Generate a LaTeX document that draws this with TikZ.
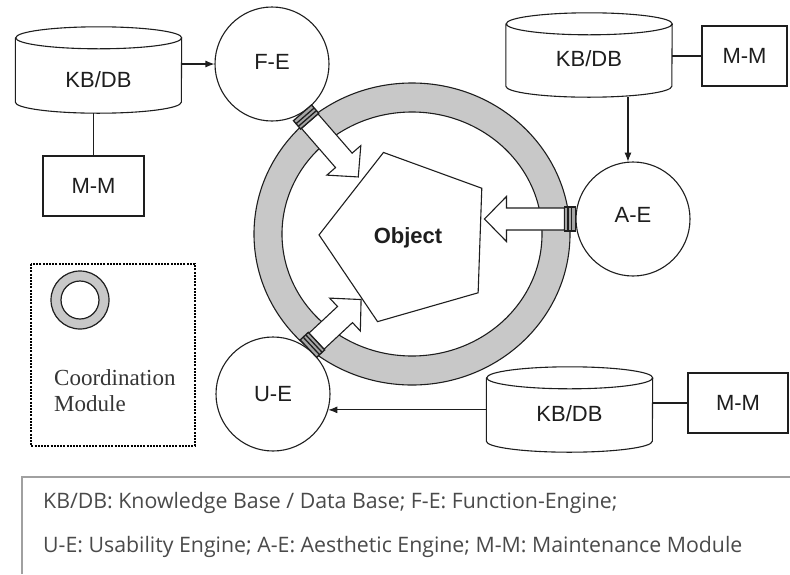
\documentclass[tikz,border=0pt]{standalone}
\usepackage{fontspec}
\setmainfont{Liberation Sans}
\newfontfamily\seriffont{Liberation Serif}
\newfontfamily\legendfont{Open Sans}
\usetikzlibrary{shapes.geometric,arrows.meta,calc}

\definecolor{ink}{HTML}{1E1E1E}
\definecolor{ringgray}{HTML}{C8C8C8}
\definecolor{legendtext}{HTML}{4A4A4A}
\definecolor{rulegray}{HTML}{A0A0A0}

\tikzset{
  shapeline/.style={draw=ink, line width=1.1pt},
  lbl/.style={font=\fontsize{22}{26}\selectfont, text=ink},
  engine/.style={shapeline, circle, minimum size=114pt, inner sep=0pt, lbl, fill=white},
  mmbox/.style={shapeline, rectangle, minimum width=#1, minimum height=60pt, inner sep=0pt, lbl},
  dbnode/.style={rectangle, minimum width=166pt, minimum height=#1, inner sep=0pt, lbl},
  link/.style={draw=ink, line width=1.1pt},
  flow/.style={link, -{Latex[length=9pt,width=7pt]}},
  arrowbody/.style={fill=white, draw=ink, line width=1.1pt, line join=miter},
  joint/.style={fill=gray!70, draw=ink, line width=1.3pt},
  jointline/.style={draw=ink, line width=1.3pt},
  legend/.style={font=\legendfont\fontsize{21.3}{25}\selectfont, text=legendtext, inner sep=0pt, anchor=west},
}

% cylinder outline around a database node (top cap and curved base)
\newcommand\drawdb[1]{%
  \draw[shapeline]
    ([yshift=-11pt]#1.north west) -- ([yshift=11pt]#1.south west)
    arc[start angle=180, end angle=360, x radius=83pt, y radius=11pt]
    -- ([yshift=-11pt]#1.north east)
    arc[start angle=0, end angle=360, x radius=83pt, y radius=11pt];}
% text lowered inside the cylinder body
\newcommand\dblabel[2]{\raisebox{\dimexpr -#1pt - 7.9pt\relax}[0pt][0pt]{#2}}
% hollow block arrow with its socket: anchor, direction, length
\newcommand\blockarrow[3]{%
  \begin{scope}[shift={(#1)}, rotate=#2]
    \path[arrowbody] (11,-11) -- ({#3-22},-11) -- ({#3-22},-22.5) -- (#3,0)
      -- ({#3-22},22.5) -- ({#3-22},11) -- (11,11) -- cycle;
    \path[joint] (0,-12) rectangle (11,12);
    \draw[jointline] (4,-12) -- (4,12) (7.5,-12) -- (7.5,12);
  \end{scope}}

\begin{document}
\begin{tikzpicture}[x=1pt, y=-1pt]
\useasboundingbox[fill=white] (0,0) rectangle (790,574);

% coordination ring around the object
\path[fill=ringgray, even odd rule]
  (412,234) ellipse[x radius=158pt, y radius=151pt]
  (412,234) ellipse[x radius=130pt, y radius=122pt];
\draw[draw=ink, line width=1.1pt] (412,234) ellipse[x radius=158pt, y radius=151pt];
\draw[draw=ink, line width=1.1pt] (412,234) ellipse[x radius=130pt, y radius=122pt];

% the object
\node[regular polygon, regular polygon sides=5, shape border rotate=16,
      minimum size=178pt, inner sep=0pt, shapeline, fill=white,
      lbl, font=\fontsize{22}{26}\selectfont\bfseries] (obj) at (408,238) {Object};

% engines
\node[engine] (fe) at (272,64)  {\raisebox{5pt}{F-E}};
\node[engine] (ae) at (633,219) {\raisebox{8pt}{A-E}};
\node[engine] (ue) at (273,394) {U-E};

% engine outputs into the object
\blockarrow{fe.-58}{-49}{85}
\blockarrow{ae.180}{180}{91}
\blockarrow{ue.52}{43}{72}

% knowledge bases and maintenance modules
\node[dbnode=86pt] (kbA) at (98.5,70)  {\dblabel{10}{KB/DB}};
\drawdb{kbA}
\node[dbnode=84pt] (kbB) at (589,55)   {\dblabel{4}{KB/DB}};
\drawdb{kbB}
\node[dbnode=85pt] (kbC) at (569.5,409.5) {\dblabel{4}{KB/DB}};
\drawdb{kbC}

\node[mmbox=101pt] (mmA) at (93.5,186) {M-M};
\node[mmbox=85pt]  (mmB) at (744.5,56) {M-M};
\node[mmbox=100pt] (mmC) at (738,403)  {M-M};

% connections
\draw[flow] (fe.west -| kbA.east) -- (fe.west);
\draw[link] (mmA.north) -- (mmA.north |- kbA.south);
\draw[link] (mmB.west -| kbB.east) -- (mmB.west);
\draw[flow] (ae.95 |- kbB.south) -- (ae.95);
\draw[link] (mmC.west -| kbC.east) -- (mmC.west);
\draw[flow] (ue.-16 -| kbC.west) -- (ue.-16);

% key for the coordination module
\draw[draw=black, line width=2.6pt, dash pattern=on 2pt off 1.2pt] (31,264) rectangle (195,446);
\path[fill=ringgray, even odd rule] (80,300) circle[radius=29pt] (80,300) circle[radius=19pt];
\draw[draw=ink, line width=1.2pt] (80,300) circle[radius=29pt] (80,300) circle[radius=19pt];
\node[anchor=north west, align=left, inner sep=0pt, text=ink!90,
      font=\seriffont\fontsize{23}{26}\selectfont] (coord) at (54,369)
      {Coordination\\Module};

% legend
\draw[draw=rulegray, line width=1.4pt] (22,574) -- (22,477) -- (790,477);
\node[legend] (leg1) at (43,503) {KB/DB: Knowledge Base / Data Base; F-E: Function-Engine;};
\node[legend] (leg2) at (43,547) {U-E: Usability Engine; A-E: Aesthetic Engine; M-M: Maintenance Module};
\end{tikzpicture}
\end{document}
